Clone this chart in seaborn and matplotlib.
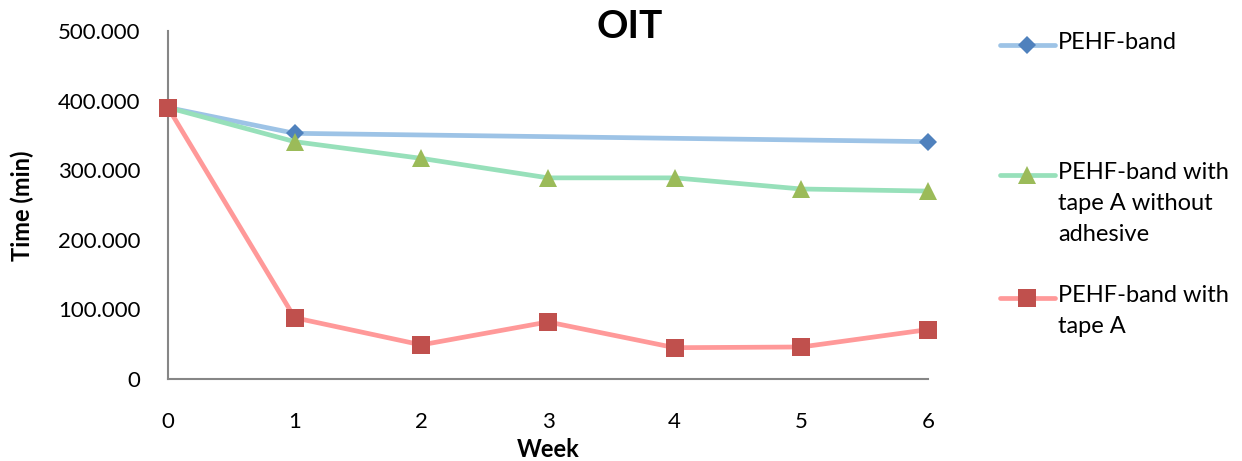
import matplotlib
matplotlib.use("Agg")
import matplotlib.pyplot as plt
from matplotlib.lines import Line2D
from matplotlib.ticker import FuncFormatter
import seaborn as sns
import pandas as pd

# ---- data ----
weeks_band = [0, 1, 6]
oit_band = [390, 353, 341]

weeks_all = [0, 1, 2, 3, 4, 5, 6]
oit_tape_no_adh = [390, 341, 317, 289, 289, 273, 270]
oit_tape_a = [390, 88, 49, 82, 45, 46, 71]

labels = ["PEHF-band", "PEHF-band with\ntape A without\nadhesive", "PEHF-band with\ntape A"]
title = "OIT"
xlabel = "Week"
ylabel = "Time (min)"
yticks = [0, 100, 200, 300, 400, 500]
xticks = [0, 1, 2, 3, 4, 5, 6]

line_colors = ["#9DC3E6", "#97E0BA", "#FF9999"]
marker_colors = ["#4F81BD", "#9BBB59", "#C0504D"]
markers = ["D", "^", "s"]
msizes = [9.5, 13.5, 13.5]

sns.set_theme(style="white")
plt.rcParams["font.family"] = ["Lato", "DejaVu Sans"]
plt.rcParams["text.color"] = "black"

fig = plt.figure(figsize=(12.42, 4.61), dpi=100)
W, H = 1242, 461
ax = fig.add_axes([168 / W, 1 - 379 / H, (928 - 168) / W, (379 - 31) / H])

series = [
    (weeks_band, oit_band),
    (weeks_all, oit_tape_no_adh),
    (weeks_all, oit_tape_a),
]
for i, (xs, ys) in enumerate(series):
    df = pd.DataFrame({"week": xs, "oit": ys})
    sns.lineplot(data=df, x="week", y="oit", ax=ax, color=line_colors[i],
                 linewidth=3.4, marker=markers[i], markersize=msizes[i],
                 markerfacecolor=marker_colors[i], markeredgewidth=0,
                 clip_on=False, zorder=3 + i)

ax.set_xlim(0, 6)
ax.set_ylim(0, 500)
ax.set_xticks(xticks)
ax.set_yticks(yticks)
ax.yaxis.set_major_formatter(FuncFormatter(lambda v, p: "0" if v == 0 else f"{v:.3f}"))
ax.tick_params(axis="both", length=0, labelsize=16, colors="black")
ax.tick_params(axis="x", pad=24)
ax.tick_params(axis="y", pad=20)
for s in ["top", "right"]:
    ax.spines[s].set_visible(False)
for s in ["left", "bottom"]:
    ax.spines[s].set_color("#868686")
    ax.spines[s].set_linewidth(1.5)
ax.set_xlabel("")
ax.set_ylabel("")
ax.grid(False)

fig.text(548 / W, 1 - 449 / H, xlabel, ha="center", va="center", fontsize=17, fontweight="bold")
fig.text(22 / W, 1 - 206 / H, ylabel, ha="center", va="center", rotation=90, fontsize=17, fontweight="bold")
fig.text(630 / W, 1 - 27 / H, title, ha="center", va="center", fontsize=28, fontweight="bold")

# legend (manual layout to put handle beside first line of each label)
leg_y = [45, 175, 298]
for i, lab in enumerate(labels):
    y = 1 - leg_y[i] / H
    fig.add_artist(Line2D([1000 / W, 1055 / W], [y, y], transform=fig.transFigure,
                          color=line_colors[i], linewidth=3.4))
    fig.add_artist(Line2D([1027 / W], [y], transform=fig.transFigure, marker=markers[i],
                          markersize=msizes[i], markerfacecolor=marker_colors[i],
                          markeredgewidth=0, linestyle="none"))
    fig.text(1058 / W, 1 - (leg_y[i] - 13) / H, lab, ha="left", va="top", fontsize=17,
             linespacing=1.6)

fig.savefig("out.png", dpi=100)
